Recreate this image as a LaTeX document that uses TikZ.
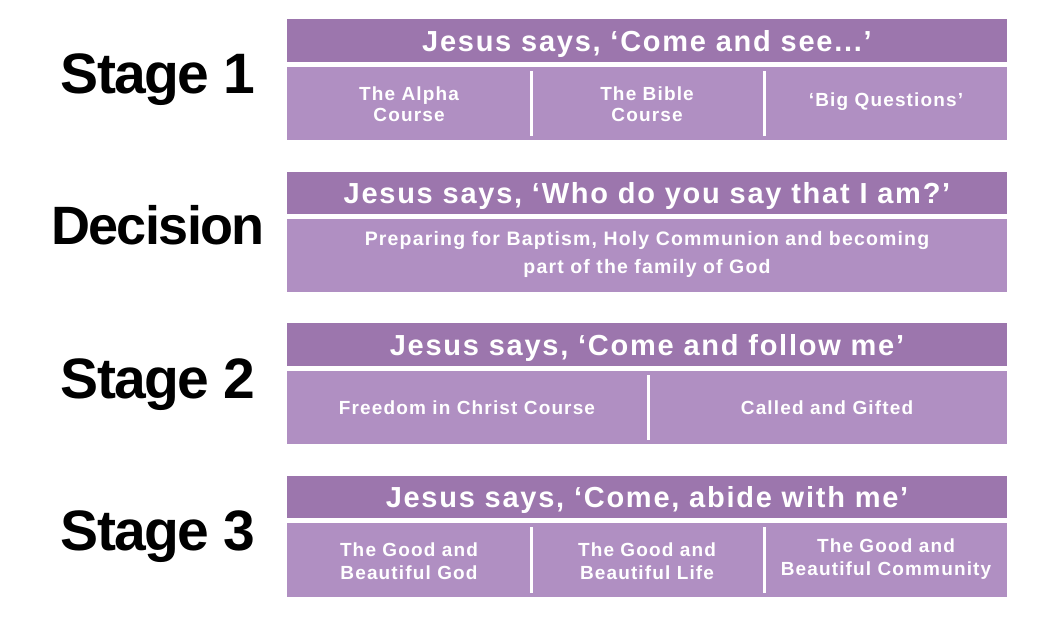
\documentclass[tikz,border=0pt]{standalone}
\usepackage{fontspec}
\setmainfont{Liberation Sans}
\newfontfamily\stagefont[LetterSpace=-3]{Liberation Sans}
\newfontfamily\boxfont[LetterSpace=6]{Liberation Sans}
\definecolor{hdr}{RGB}{156,118,173}
\definecolor{bdy}{RGB}{176,143,194}
\begin{document}
\begin{tikzpicture}[x=1pt,y=-1pt,
  hdrbox/.style={fill=hdr,draw=none},
  bdybox/.style={fill=bdy,draw=none},
  hdrtext/.style={text=white,anchor=base,font=\boxfont\bfseries\fontsize{29}{32}\selectfont},
  celltext/.style={text=white,font=\boxfont\bfseries\fontsize{19}{20}\selectfont,align=center},
  stagetext/.style={text=black,anchor=base,font=\stagefont\bfseries\fontsize{57}{60}\selectfont},
  divider/.style={draw=white,line width=3pt}]
\useasboundingbox (0,0) rectangle (1051,616);
\fill[white] (0,0) rectangle (1051,616);
% Stage 1
\fill[hdrbox] (287,19) rectangle (1007,62);
\fill[bdybox] (287,67) rectangle (1007,140);
\coordinate (d1a) at (531,71); \coordinate (d1b) at (531,136);
\coordinate (d2a) at (764,71); \coordinate (d2b) at (764,136);
\draw[divider] (d1a) -- (d1b);
\draw[divider] (d2a) -- (d2b);
\node[stagetext] (s1) at (158,93) {Stage 1};
\node[hdrtext] (h1) at (647,51) {Jesus says, ‘Come and see...’};
\node[celltext] (c11) at (409,104) {The Alpha\\[1pt]Course};
\node[celltext] (c12) at (647,104) {The Bible\\[1pt]Course};
\node[celltext] (c13) at (886,102) {‘Big Questions’};
% Decision
\fill[hdrbox] (287,172) rectangle (1007,214);
\fill[bdybox] (287,219) rectangle (1007,292);
\node[stagetext,font=\stagefont\bfseries\fontsize{54}{60}\selectfont] (s2) at (158,244) {Decision};
\node[hdrtext] (h2) at (647,203.5) {Jesus says, ‘Who do you say that I am?’};
\node[celltext,text width=700pt,font=\boxfont\bfseries\fontsize{19.5}{20}\selectfont] (c21) at (647,254) {Preparing for Baptism, Holy Communion and becoming\\[8pt]part of the family of God};
% Stage 2
\fill[hdrbox] (287,323) rectangle (1007,366);
\fill[bdybox] (287,371) rectangle (1007,444);
\coordinate (d3a) at (648,375); \coordinate (d3b) at (648,440);
\draw[divider] (d3a) -- (d3b);
\node[stagetext] (s3) at (158,398) {Stage 2};
\node[hdrtext] (h3) at (647,355) {Jesus says, ‘Come and follow me’};
\node[celltext] (c31) at (467,408) {Freedom in Christ Course};
\node[celltext] (c32) at (827,408) {Called and Gifted};
% Stage 3
\fill[hdrbox] (287,476) rectangle (1007,518);
\fill[bdybox] (287,523) rectangle (1007,597);
\coordinate (d4a) at (531,527); \coordinate (d4b) at (531,593);
\coordinate (d5a) at (764,527); \coordinate (d5b) at (764,593);
\draw[divider] (d4a) -- (d4b);
\draw[divider] (d5a) -- (d5b);
\node[stagetext] (s4) at (158,550) {Stage 3};
\node[hdrtext] (h4) at (647,507.5) {Jesus says, ‘Come, abide with me’};
\node[celltext] (c41) at (409,561) {The Good and\\[3pt]Beautiful God};
\node[celltext] (c42) at (647,561) {The Good and\\[3pt]Beautiful Life};
\node[celltext] (c43) at (886,559) {The Good and\\[3pt]Beautiful Community};
\end{tikzpicture}
\end{document}
